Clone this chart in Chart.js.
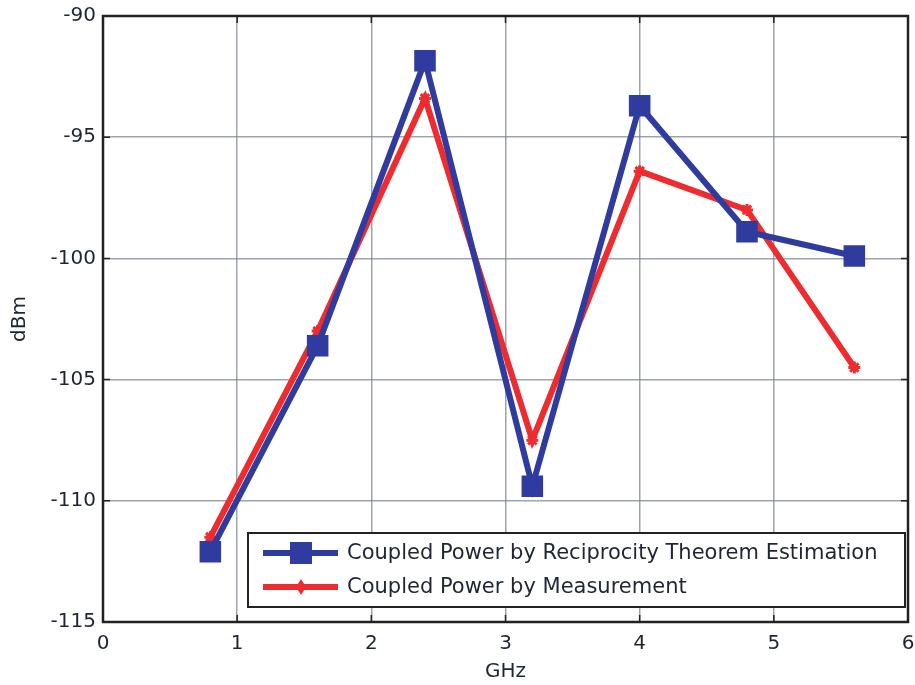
<!DOCTYPE html>
<html>
<head>
<meta charset="utf-8">
<script src="https://cdn.jsdelivr.net/npm/chart.js@4.4.1/dist/chart.umd.min.js"></script>
<style>
  html, body { margin: 0; padding: 0; background: #fff; }
  #wrap { width: 915px; height: 685px; }
</style>
</head>
<body>
<div id="wrap"><canvas id="chart" width="915" height="685"></canvas></div>
<script>
// Frequency points (GHz)
var freqs = [0.8, 1.6, 2.4, 3.2, 4.0, 4.8, 5.6];
// Coupled power (dBm)
var estimated = [-112.1, -103.6, -91.85, -109.4, -93.7, -98.9, -99.9];
var measured = [-111.5, -103.0, -93.4, -107.5, -96.4, -98.0, -104.5];
var xTicks = [0, 1, 2, 3, 4, 5, 6];
var yTicks = [-115, -110, -105, -100, -95, -90];

var BLUE = '#2f3b9e';
var RED = '#ee2b2e';
var TEXT = '#1f2633';
var FONT = '"DejaVu Sans", sans-serif';
var GRID = 'rgba(115,125,140,0.7)';

function toPoints(xs, ys) {
    return xs.map(function(x, i) { return { x: x, y: ys[i] }; });
}

// Box around the axes plus a MATLAB-style legend inside the plot
var boxAndLegend = {
    id: 'boxAndLegend',
    afterDraw: function(chart) {
        var ctx = chart.ctx;
        var a = chart.chartArea;
        ctx.save();
        ctx.strokeStyle = '#222';
        ctx.lineWidth = 2.5;
        ctx.strokeRect(a.left, a.top, a.right - a.left, a.bottom - a.top);

        // small inward tick marks
        ctx.lineWidth = 1.5;
        var xs = chart.scales.x, ys = chart.scales.y;
        xTicks.forEach(function(v) {
            var px = xs.getPixelForValue(v);
            ctx.beginPath();
            ctx.moveTo(px, a.bottom); ctx.lineTo(px, a.bottom - 7);
            ctx.moveTo(px, a.top); ctx.lineTo(px, a.top + 7);
            ctx.stroke();
        });
        yTicks.forEach(function(v) {
            var py = ys.getPixelForValue(v);
            ctx.beginPath();
            ctx.moveTo(a.left, py); ctx.lineTo(a.left + 7, py);
            ctx.moveTo(a.right, py); ctx.lineTo(a.right - 7, py);
            ctx.stroke();
        });

        // legend
        var lx = 248, ly = 533, lw = 657, lh = 74;
        ctx.fillStyle = '#fff';
        ctx.fillRect(lx, ly, lw, lh);
        ctx.strokeStyle = '#222';
        ctx.lineWidth = 2;
        ctx.strokeRect(lx, ly, lw, lh);

        var rows = chart.data.datasets;
        ctx.font = '21px ' + FONT;
        ctx.textBaseline = 'middle';
        rows.forEach(function(ds, i) {
            var y = ly + 20 + i * 34;
            ctx.strokeStyle = ds.borderColor;
            ctx.lineWidth = 6;
            ctx.beginPath();
            ctx.moveTo(lx + 15, y);
            ctx.lineTo(lx + 90, y);
            ctx.stroke();
            ctx.fillStyle = ds.borderColor;
            if (ds.pointStyle === 'rect') {
                ctx.fillRect(lx + 42, y - 11, 22, 22);
            } else {
                ctx.beginPath();
                ctx.moveTo(lx + 53, y - 8);
                ctx.lineTo(lx + 58, y);
                ctx.lineTo(lx + 53, y + 8);
                ctx.lineTo(lx + 48, y);
                ctx.closePath();
                ctx.fill();
            }
            ctx.fillStyle = TEXT;
            ctx.fillText(ds.label, lx + 99, y + 1);
        });
        ctx.restore();
    }
};

new Chart(document.getElementById('chart'), {
    type: 'line',
    data: {
        datasets: [{
            label: 'Coupled Power by Reciprocity Theorem Estimation',
            data: toPoints(freqs, estimated),
            borderColor: BLUE,
            backgroundColor: BLUE,
            borderWidth: 6,
            pointStyle: 'rect',
            pointRadius: 11,
            pointBorderWidth: 6,
            pointBorderColor: BLUE,
            pointBackgroundColor: BLUE,
            tension: 0
        }, {
            label: 'Coupled Power by Measurement',
            data: toPoints(freqs, measured),
            borderColor: RED,
            backgroundColor: RED,
            borderWidth: 6,
            pointStyle: 'star',
            pointRadius: 6,
            pointBorderWidth: 3,
            pointBorderColor: RED,
            tension: 0
        }]
    },
    options: {
        responsive: false,
        animation: false,
        layout: {
            autoPadding: false,
            padding: { left: 0, top: 16, right: 7, bottom: 0 }
        },
        plugins: {
            legend: { display: false },
            tooltip: { enabled: false }
        },
        scales: {
            x: {
                type: 'linear',
                min: 0,
                max: 6,
                afterBuildTicks: function(scale) {
                    scale.ticks = xTicks.map(function(v) { return { value: v }; });
                },
                afterFit: function(scale) {
                    scale.height = 63;
                    scale.paddingLeft = 0;
                    scale.paddingRight = 0;
                },
                grid: { color: GRID, lineWidth: 1.5, drawTicks: false },
                border: { display: false },
                ticks: {
                    padding: 10,
                    color: TEXT,
                    font: { size: 20, family: FONT }
                },
                title: {
                    display: true,
                    text: 'GHz',
                    color: TEXT,
                    font: { size: 20, family: FONT },
                    padding: { top: 0, bottom: 1 }
                }
            },
            y: {
                min: -115,
                max: -90,
                afterBuildTicks: function(scale) {
                    scale.ticks = yTicks.map(function(v) { return { value: v }; });
                },
                afterFit: function(scale) {
                    scale.width = 103;
                    scale.paddingTop = 0;
                    scale.paddingBottom = 0;
                },
                grid: { color: GRID, lineWidth: 1.5, drawTicks: false },
                border: { display: false },
                ticks: {
                    padding: 7,
                    color: TEXT,
                    font: { size: 20, family: FONT }
                },
                title: {
                    display: true,
                    text: 'dBm',
                    color: TEXT,
                    font: { size: 20, family: FONT },
                    padding: { top: 8, bottom: 0 }
                }
            }
        }
    },
    plugins: [boxAndLegend]
});
</script>
</body>
</html>
